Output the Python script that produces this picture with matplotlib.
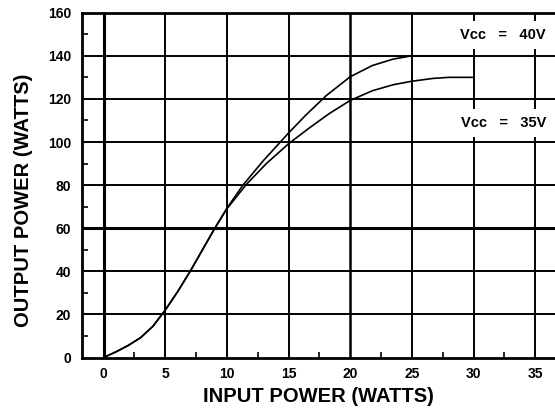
import matplotlib
matplotlib.use("Agg")
import matplotlib.pyplot as plt

# Data
input_40v = [0, 1, 2, 3, 4, 5, 6, 7, 8, 9, 10, 11.3, 12.9,
             15, 16.4, 18.05, 20, 21.8, 23.5, 25, 27.5, 30]
output_40v = [0, 2.6, 5.6, 9.2, 14.5, 22, 30.5, 39.8, 49.8, 59.8, 69.3, 80, 91,
              104.2, 112.5, 121.5, 130.3, 135.5, 138.5, 140, 140, 140]
input_35v = [0, 1, 2, 3, 4, 5, 6, 7, 8, 9, 10, 11.6, 13.2,
             15, 16.7, 18.3, 20, 21.8, 23.5, 25, 26.7, 28, 30]
output_35v = [0, 2.6, 5.6, 9.2, 14.5, 22, 30.5, 39.8, 49.8, 59.8, 69, 80.5, 90,
              99.2, 106.6, 113.2, 119.3, 123.8, 126.6, 128.2, 129.5, 130, 130]
x_ticks = [0, 5, 10, 15, 20, 25, 30, 35]
y_ticks = [0, 20, 40, 60, 80, 100, 120, 140, 160]
labels = ["Vcc   =   40V", "Vcc   =   35V"]
label_pos = [(32.4, 149.6), (32.4, 108.8)]

plt.rcParams['font.family'] = ['Liberation Sans', 'DejaVu Sans']

fig = plt.figure(figsize=(5.55, 4.12), dpi=100)
ax = fig.add_axes([82/555, 54.5/412, 1 - 82/555, (357.5 - 12.7)/412])
ax.set_xlim(-1.75, 36.6)
ax.set_ylim(0, 160)

# grid
for xv in x_ticks:
    lw = 2.2 if xv == 0 else (1.8 if xv == 20 else 1.4)
    ax.axvline(xv, color='black', lw=lw, zorder=1)
for yv in y_ticks[1:-1]:
    lw = 2.2 if yv == 60 else 1.4
    ax.axhline(yv, color='black', lw=lw, zorder=1)

ax.plot(input_40v, output_40v, color='black', lw=1.2, zorder=3, solid_joinstyle='round')
ax.plot(input_35v, output_35v, color='black', lw=1.2, zorder=3, solid_joinstyle='round')

for t, (xp, yp) in zip(labels, label_pos):
    ax.text(xp, yp, t, ha='center', va='center', fontsize=10.5, fontweight='bold',
            zorder=4, bbox=dict(facecolor='white', edgecolor='none', pad=5))

ax.set_xticks(x_ticks)
ax.set_yticks(y_ticks)
ax.set_xticks([2.5 + 5 * i for i in range(7)], minor=True)
ax.set_yticks([10 + 20 * i for i in range(8)], minor=True)
ax.tick_params(axis='x', which='major', length=0, labelsize=10, pad=7)
ax.tick_params(axis='y', which='major', length=0, labelsize=10, pad=8)
ax.tick_params(axis='both', which='minor', direction='in', length=4, width=1.2)
for lab in ax.get_xticklabels() + ax.get_yticklabels():
    lab.set_fontweight('bold')

for side in ['left', 'bottom', 'top']:
    ax.spines[side].set_linewidth(2)
ax.spines['right'].set_visible(False)

ax.set_xlabel("INPUT POWER (WATTS)", fontsize=14.5, fontweight='bold')
ax.set_ylabel("OUTPUT POWER (WATTS)", fontsize=14.5, fontweight='bold')
ax.xaxis.set_label_coords(0.5, -0.085)
ax.yaxis.set_label_coords(-0.104, 0.457)

fig.savefig("out.png", dpi=100)
